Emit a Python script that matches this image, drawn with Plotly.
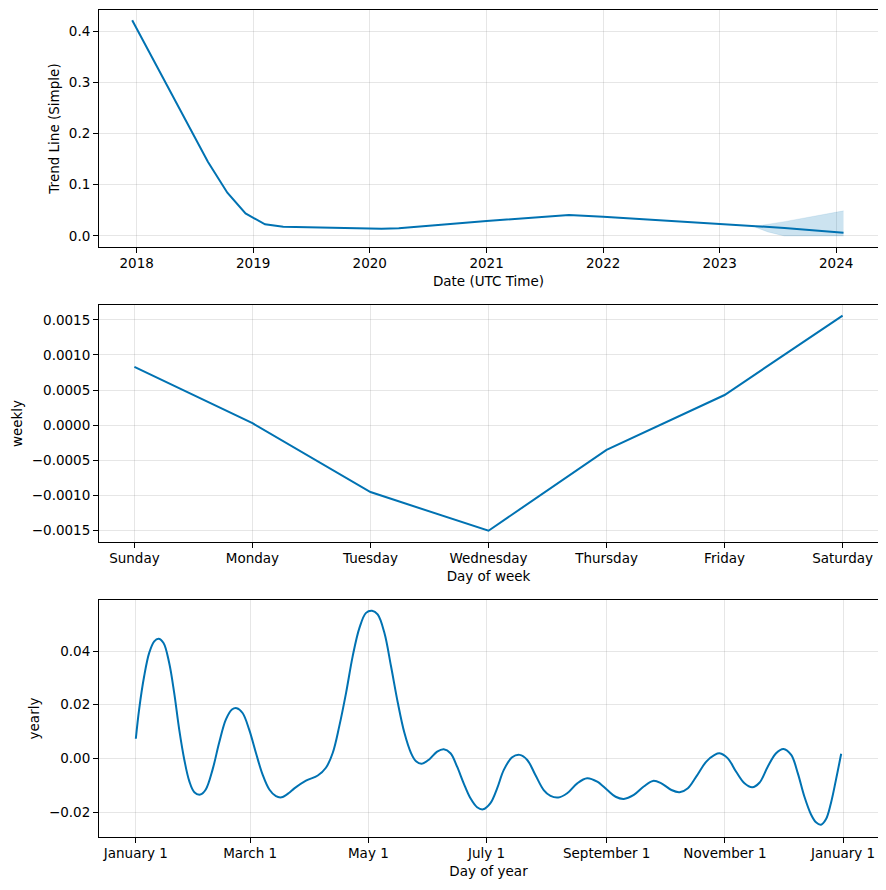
import plotly.graph_objects as go
import pandas as pd

# ---------------- data ----------------
trend_dates = ["2017-12-18", "2018-08-12", "2018-10-12", "2018-12-08", "2019-02-07",
               "2019-04-05", "2020-02-07", "2020-04-01", "2021-01-01", "2021-09-16",
               "2022-01-01", "2023-01-01", "2023-07-23", "2024-01-24"]
trend_values = [0.421, 0.145, 0.0845, 0.044, 0.0228, 0.018, 0.0142, 0.015, 0.029,
                0.041, 0.0377, 0.0234, 0.0156, 0.0065]

band_dates = ["2023-04-23", "2023-06-01", "2023-07-23", "2024-01-24"]
band_upper = [0.019, 0.023, 0.028, 0.049]
band_lower = [0.017, 0.008, 0.0, 0.0]

week_days = ["Sunday", "Monday", "Tuesday", "Wednesday", "Thursday", "Friday", "Saturday"]
week_values = [0.00083, 0.00003, -0.00095, -0.0015, -0.00035, 0.00043, 0.00156]

year_days = [0, 1.7, 4.3, 6.9, 9.5, 11.7, 14.3, 17.2, 19.8, 22.4, 25.0, 27.6, 30.2, 33.2,
             36.1, 39.6, 43.0, 46.5, 49.6, 52.1, 55.1, 58.5, 62.0, 65.4, 68.9, 72.3, 75.2,
             79.2, 81.8, 87.8, 93.9, 98.1, 101.6, 105.0, 108.5, 111.9, 115.4, 118.8, 121.9,
             124.8, 128.3, 131.7, 135.2, 138.6, 142.0, 144.6, 147.5, 151.4, 155.5, 158.9,
             162.4, 165.8, 169.2, 172.7, 176.1, 179.2, 183.0, 186.5, 189.9, 194.2, 198.1,
             202.0, 206.2, 210.5, 214.0, 218.0, 222.6, 227.8, 232.9, 238.1, 243.3, 247.6,
             251.8, 257.0, 262.1, 266.9, 271.2, 276.4, 280.6, 284.9, 289.2, 294.4, 298.7,
             301.2, 305.5, 309.8, 314.1, 318.1, 321.8, 326.1, 330.4, 334.2, 338.2, 341.6,
             345.0, 348.5, 351.0, 353.6, 356.2, 358.7, 361.3, 364.0]
year_values = [0.0073, 0.0182, 0.0306, 0.0393, 0.0436, 0.0446, 0.0430, 0.0356, 0.0244,
               0.0107, -0.0004, -0.0085, -0.0126, -0.0135, -0.0116, -0.0042, 0.0058, 0.0145,
               0.0182, 0.0187, 0.0169, 0.0107, 0.0020, -0.0060, -0.0116, -0.0141, -0.0145,
               -0.0128, -0.0112, -0.0083, -0.0064, -0.0035, 0.0020, 0.0120, 0.0244, 0.0380,
               0.0486, 0.0542, 0.0550, 0.0536, 0.0467, 0.0343, 0.0207, 0.0095, 0.0020,
               -0.0011, -0.0020, -0.0004, 0.0025, 0.0034, 0.0019, -0.0031, -0.0093, -0.0149,
               -0.0182, -0.0190, -0.0167, -0.0111, -0.0043, 0.0004, 0.0013, -0.0006, -0.0062,
               -0.0118, -0.0140, -0.0146, -0.0130, -0.0093, -0.0074, -0.0087, -0.0118,
               -0.0143, -0.0151, -0.0136, -0.0105, -0.0084, -0.0093, -0.0118, -0.0126,
               -0.0111, -0.0068, -0.0012, 0.0013, 0.0019, 0.0000, -0.0050, -0.0093, -0.0108,
               -0.0091, -0.0031, 0.0019, 0.0035, 0.0013, -0.0055, -0.0142, -0.0210, -0.0238,
               -0.0247, -0.0226, -0.0167, -0.0080, 0.0017]

# ---------------- build ----------------
year_dates = [pd.Timestamp("2017-01-01") + pd.Timedelta(days=d) for d in year_days]

BLUE = "#0072B2"
BAND = "rgba(0,114,178,0.2)"
GRID = "rgba(128,128,128,0.2)"
FONT = "DejaVu Sans"
FS = 13.5

W, H = 878, 882   # page body has an 8px margin
OFF = 8


def ydom(top, bottom):
    return [1 - (bottom - OFF) / H, 1 - (top - OFF) / H]


fig = go.Figure()

fig.add_trace(go.Scatter(x=band_dates, y=band_upper, mode="lines", line=dict(width=0.5, color=BAND),
                         xaxis="x", yaxis="y", showlegend=False, hoverinfo="skip"))
fig.add_trace(go.Scatter(x=band_dates, y=band_lower, mode="lines", line=dict(width=0.5, color=BAND),
                         fill="tonexty", fillcolor=BAND, xaxis="x", yaxis="y",
                         showlegend=False, hoverinfo="skip"))
fig.add_trace(go.Scatter(x=trend_dates, y=trend_values, mode="lines",
                         line=dict(color=BLUE, width=2), xaxis="x", yaxis="y", showlegend=False))

fig.add_trace(go.Scatter(x=list(range(len(week_days))), y=week_values, mode="lines",
                         line=dict(color=BLUE, width=2), xaxis="x2", yaxis="y2", showlegend=False))

fig.add_trace(go.Scatter(x=year_dates, y=year_values, mode="lines",
                         line=dict(color=BLUE, width=2, shape="spline", smoothing=1.0),
                         xaxis="x3", yaxis="y3", showlegend=False))

common = dict(showline=True, linecolor="black", linewidth=1, mirror=True,
              ticks="outside", ticklen=5, tickcolor="black", tickwidth=1,
              showgrid=True, gridcolor=GRID, gridwidth=1, zeroline=False, automargin=False,
              tickfont=dict(family=FONT, size=FS, color="black"))
xcommon = dict(common, ticklabelstandoff=-1)
xdom = [(99 - OFF) / W, (878 - OFF) / W]

fig.update_layout(
    template="none",
    width=W, height=H,
    margin=dict(l=0, r=0, t=0, b=0),
    paper_bgcolor="white", plot_bgcolor="white",
    font=dict(family=FONT, size=FS, color="black"),
    xaxis=dict(domain=xdom, anchor="y", type="date", range=["2017-09-05", "2024-05-11"],
               dtick="M12", tick0="2018-01-01", tickformat="%Y",
               title=dict(text="Date (UTC Time)", font=dict(family=FONT, size=FS), standoff=6), **xcommon),
    yaxis=dict(domain=ydom(10, 247), anchor="x", range=[-0.0215, 0.441],
               dtick=0.1, tickformat=".1f",
               title=dict(text="Trend Line (Simple)", font=dict(family=FONT, size=FS), standoff=6), **common),
    xaxis2=dict(domain=xdom, anchor="y2", range=[-0.3, 6.3], tickmode="array",
                tickvals=list(range(len(week_days))), ticktext=week_days,
                title=dict(text="Day of week", font=dict(family=FONT, size=FS), standoff=6), **xcommon),
    yaxis2=dict(domain=ydom(305, 542), anchor="x2", range=[-0.00166, 0.00171],
                dtick=0.0005, tickformat=".4f",
                title=dict(text="weekly", font=dict(family=FONT, size=FS), standoff=6), **common),
    xaxis3=dict(domain=xdom, anchor="y3", type="date", range=["2016-12-13", "2018-01-19"],
                dtick="M2", tick0="2017-01-01", tickformat="%B %-d",
                title=dict(text="Day of year", font=dict(family=FONT, size=FS), standoff=6), **xcommon),
    yaxis3=dict(domain=ydom(600, 837), anchor="x3", range=[-0.0293, 0.059],
                dtick=0.02, tickformat=".2f",
                title=dict(text="yearly", font=dict(family=FONT, size=FS), standoff=6), **common),
)

fig.write_html("out.html")
